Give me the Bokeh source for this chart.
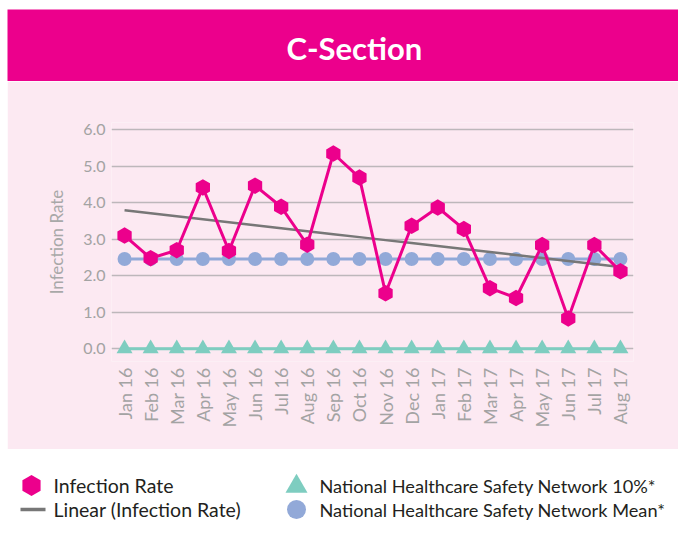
import math
import numpy as np
from bokeh.plotting import figure
from bokeh.layouts import column, row
from bokeh.models import Range1d, FactorRange, Label, FixedTicker, NumeralTickFormatter, Spacer
from bokeh.core.properties import value
from bokeh.embed import file_html
from bokeh.resources import INLINE

# ---------------- data ----------------
title_text = "C-Section"
y_axis_label = "Infection Rate"
months = ["Jan 16", "Feb 16", "Mar 16", "Apr 16", "May 16", "Jun 16", "Jul 16",
          "Aug 16", "Sep 16", "Oct 16", "Nov 16", "Dec 16", "Jan 17", "Feb 17",
          "Mar 17", "Apr 17", "May 17", "Jun 17", "Jul 17", "Aug 17"]
infection_rate = [3.10, 2.48, 2.70, 4.42, 2.68, 4.47, 3.89, 2.85, 5.35, 4.69,
                  1.52, 3.37, 3.87, 3.28, 1.66, 1.39, 2.84, 0.83, 2.84, 2.12]
nhsn_10pct = [0.0, 0.0, 0.0, 0.0, 0.0, 0.0, 0.0, 0.0, 0.0, 0.0,
              0.0, 0.0, 0.0, 0.0, 0.0, 0.0, 0.0, 0.0, 0.0, 0.0]
nhsn_mean = [2.46, 2.46, 2.46, 2.46, 2.46, 2.46, 2.46, 2.46, 2.46, 2.46,
             2.46, 2.46, 2.46, 2.46, 2.46, 2.46, 2.46, 2.46, 2.46, 2.46]
y_ticks = [0, 1, 2, 3, 4, 5, 6]
legend_left = ["Infection Rate", "Linear (Infection Rate)"]
legend_right = ["National Healthcare Safety Network 10%*",
                "National Healthcare Safety Network Mean*"]

# linear trend of the infection rate (least squares)
idx = np.arange(len(infection_rate))
coef = np.polyfit(idx, infection_rate, 1)
trend = list(np.polyval(coef, idx))

# ---------------- style ----------------
MAGENTA = "#EC008C"
LIGHT_BG = "#FCE9F2"
GRAY_TXT = "#A3A3A3"
TREND = "#777777"
MEAN_C = "#92A9D8"
TEAL = "#7ECDC0"
FONT = "Lato"
W = 671

# ---------------- header ----------------
header = figure(width=W, height=72, x_range=Range1d(0, 1), y_range=Range1d(0, 1),
                x_axis_type=None, y_axis_type=None, toolbar_location=None,
                output_backend="svg", min_border=0, frame_align=False)
header.background_fill_color = MAGENTA
header.border_fill_color = MAGENTA
header.outline_line_color = None
header.add_layout(Label(x=0.517, y=0.46, text=title_text, text_align="center",
                        text_baseline="middle", text_color="white",
                        text_font=FONT, text_font_style="bold",
                        text_font_size="31px"))

# ---------------- chart ----------------
p = figure(width=W, height=368, x_range=FactorRange(factors=months),
           y_range=Range1d(-0.35, 6.2), toolbar_location=None,
           output_backend="svg", min_border_left=104, min_border_right=45,
           min_border_top=41, min_border_bottom=88, frame_align=False)
p.background_fill_color = LIGHT_BG
p.border_fill_color = LIGHT_BG
p.outline_line_color = None

p.xgrid.grid_line_color = None
p.ygrid.ticker = FixedTicker(ticks=y_ticks)
p.ygrid.grid_line_color = "#BDB7BB"
p.ygrid.grid_line_width = 1.3

p.yaxis.ticker = FixedTicker(ticks=y_ticks)
p.yaxis.formatter = NumeralTickFormatter(format="0.0")
p.yaxis.axis_label = y_axis_label
p.yaxis.axis_label_text_font = FONT
p.yaxis.axis_label_text_font_style = "normal"
p.yaxis.axis_label_text_font_size = "17px"
p.yaxis.axis_label_text_color = "#A8A8A8"
p.yaxis.axis_label_standoff = 13
for ax in (p.xaxis[0], p.yaxis[0]):
    ax.axis_line_color = None
    ax.major_tick_line_color = None
    ax.minor_tick_line_color = None
    ax.major_tick_out = 0
    ax.major_tick_in = 0
    ax.minor_tick_out = 0
    ax.major_label_text_color = GRAY_TXT
    ax.major_label_text_font = FONT
    ax.major_label_standoff = 6
p.yaxis.major_label_text_font_size = "16px"
p.xaxis.major_label_text_font_size = "18px"
p.xaxis.major_label_orientation = math.pi / 2

p.line(months, nhsn_10pct, line_color=TEAL, line_width=3)
p.scatter(months, nhsn_10pct, marker="triangle", size=16, fill_color=TEAL,
          line_color=None)
p.line(months, nhsn_mean, line_color=MEAN_C, line_width=3)
p.scatter(months, nhsn_mean, marker="circle", size=14, fill_color=MEAN_C,
          line_color=None)
p.line(months, trend, line_color=TREND, line_width=2.5)
p.line(months, infection_rate, line_color=MAGENTA, line_width=3)
p.scatter(months, infection_rate, marker="hex", angle=math.pi / 6, size=16.5,
          fill_color=MAGENTA, line_color=None)

# ---------------- legend ----------------
LH = 72
lg = figure(width=W, height=LH, x_range=Range1d(0, W), y_range=Range1d(LH, 0),
            x_axis_type=None, y_axis_type=None, toolbar_location=None,
            output_backend="svg", min_border=0, frame_align=False)
lg.background_fill_color = "white"
lg.border_fill_color = "white"
lg.outline_line_color = None
row1, row2 = 36, 60
col1, col2 = 24, 289
lg.scatter([col1], [row1], marker="hex", angle=math.pi / 6, size=21,
           fill_color=MAGENTA, line_color=None)
lg.line([col1 - 11, col1 + 14], [row2, row2], line_color=TREND, line_width=3.5)
lg.scatter([col2], [row1 + 1], marker="triangle", size=22, fill_color=TEAL,
           line_color=None)
lg.scatter([col2], [row2], marker="circle", size=19, fill_color=MEAN_C,
           line_color=None)
lg.text(x=[col1 + 22, col1 + 22], y=[row1, row2], text=legend_left,
        text_font=value(FONT), text_font_size="19.5px", text_color="#231F20",
        text_baseline="middle", text_align="left")
lg.text(x=[col2 + 23, col2 + 23], y=[row1, row2], text=legend_right,
        text_font=value(FONT), text_font_size="18.2px", text_color="#231F20",
        text_baseline="middle", text_align="left")

stack = column(Spacer(width=W, height=9), header, p, lg, spacing=0)
layout = row(Spacer(width=7, height=9 + 72 + 368 + LH), stack, spacing=0)
open("out.html", "w").write(file_html(layout, INLINE))
